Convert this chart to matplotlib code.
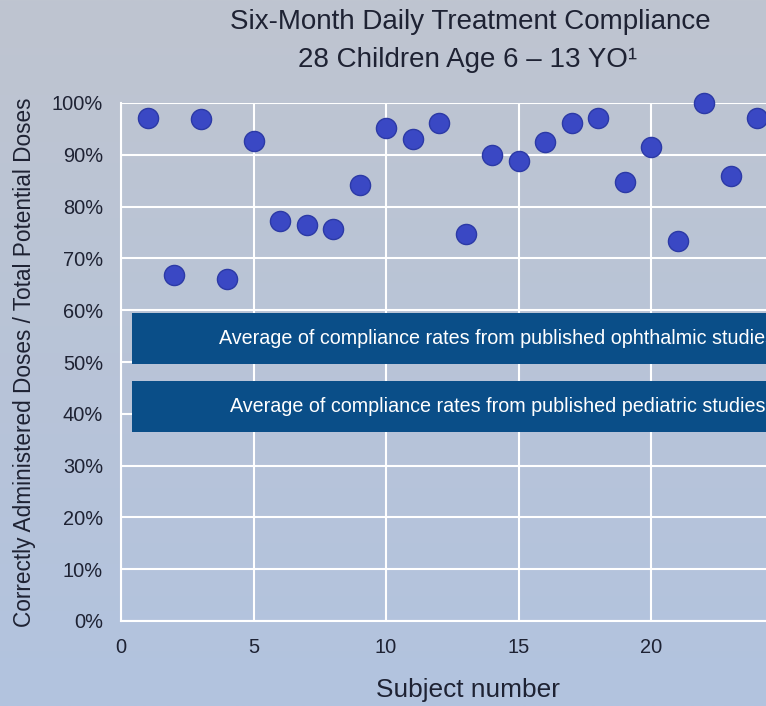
import numpy as np
import matplotlib.pyplot as plt

plt.rcParams['font.family'] = ['Liberation Sans', 'DejaVu Sans']

# compliance per subject (only subjects visible in the frame)
subjects = list(range(1, 25))
compliance = [97.1, 66.8, 96.9, 66.0, 92.7, 77.2, 76.4, 75.7, 84.2, 95.2,
              93.1, 96.1, 74.7, 90.0, 88.8, 92.5, 96.1, 97.1, 84.7, 91.5,
              73.4, 100.0, 85.9, 97.1]

band_labels = ["Average of compliance rates from published ophthalmic studies",
               "Average of compliance rates from published pediatric studies"]
band_centers = [54.5, 41.4]
band_heights = [9.8, 9.8]
band_start = 0.4
band_end = 28.0

fig = plt.figure(figsize=(7.66, 7.06), dpi=100)

# gradient background
bg = fig.add_axes([0, 0, 1, 1], zorder=-10)
grad = np.linspace(0, 1, 256).reshape(-1, 1)
c_top = np.array([0xbf, 0xc5, 0xd0]) / 255
c_bot = np.array([0xb2, 0xc3, 0xdf]) / 255
img = c_top[None, None, :] * (1 - grad[:, :, None]) + c_bot[None, None, :] * grad[:, :, None]
bg.imshow(img, aspect='auto', extent=[0, 1, 0, 1])
bg.axis('off')

# axes run past the right edge of the picture, as in the original slide
ax = fig.add_axes([121 / 766, 85 / 706, 795 / 766, 518 / 706])
ax.set_facecolor('none')
ax.set_xlim(0, 30)
ax.set_ylim(0, 100)

ax.set_xticks([0, 5, 10, 15, 20])
ax.set_yticks(range(0, 101, 10))
ax.set_yticklabels([f"{v}%" for v in range(0, 101, 10)])
ax.grid(True, color='white', linewidth=1.5)
ax.set_axisbelow(True)
for s in ['top', 'right']:
    ax.spines[s].set_visible(False)
for s in ['left', 'bottom']:
    ax.spines[s].set_color('white')
    ax.spines[s].set_linewidth(1.5)
ax.tick_params(length=0, labelsize=14.4, colors='#1e2233')
ax.tick_params(axis='y', pad=13)
ax.tick_params(axis='x', pad=12)

for c, h, lab in zip(band_centers, band_heights, band_labels):
    ax.barh(c, band_end - band_start, left=band_start, height=h,
            color='#0a4e88', zorder=3)
    ax.text((band_start + band_end) / 2, c, lab, color='white', fontsize=14.2,
            ha='center', va='center', zorder=4)

ax.scatter(subjects, compliance, s=210, color='#3a48c4', edgecolor='#2c3aa6',
           linewidth=1, zorder=5, clip_on=False)

ax.set_xlabel("Subject number", fontsize=18.9, color='#1e2233')
ax.xaxis.label.set_va('center')
ax.xaxis.set_label_coords((468 - 121) / 795, -0.133)
ax.set_ylabel("Correctly Administered Doses / Total Potential Doses",
              fontsize=16.3, color='#1e2233')
ax.yaxis.label.set_va('center')
ax.yaxis.set_label_coords((25 - 121) / 795, 0.5)

fig.text(470 / 766, 1 - 22 / 706, "Six-Month Daily Treatment Compliance",
         fontsize=20, color='#1e2233', ha='center', va='center')
fig.text(468 / 766, 1 - 60 / 706, "28 Children Age 6 \u2013 13 YO\u00b9",
         fontsize=20, color='#1e2233', ha='center', va='center')

fig.savefig('out.png', dpi=100)
